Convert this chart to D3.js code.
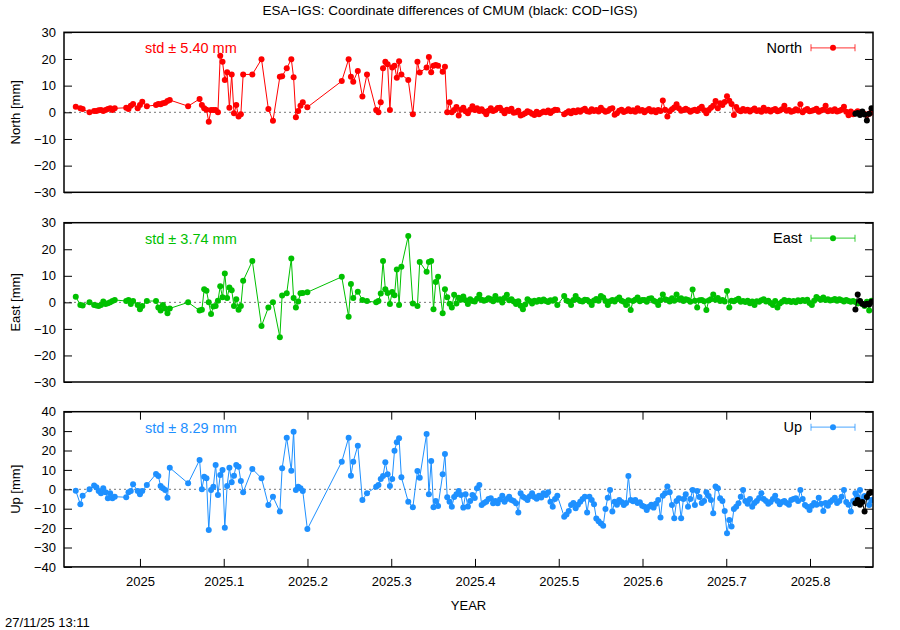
<!DOCTYPE html>
<meta charset="utf-8">
<style>
body { margin: 0; background: #fff; }
text { font-family: "Liberation Sans", Arial, Helvetica, sans-serif; }
</style>
<body>
<script src="https://d3js.org/d3.v7.min.js"></script>
<script>

// epochs as day of 2025 (negative = December 2024)
var days = [
  -28, -26, -25, -22, -20, -19, -18, -17, -16, -15, -14, -13, -12, -11,
  -6, -5, -4, -3, -1, 0, 1, 3,
  7, 8, 9, 10, 11, 12, 13,
  21,
  26, 27, 28, 29, 30, 31, 32, 33, 34, 35, 36, 37, 38, 39, 40, 41, 42, 43, 44, 45,
  49, 53, 56, 58, 61, 62, 64, 66, 67, 68, 69, 70, 71, 73,
  88, 91, 92, 93, 95, 97, 99,
  103, 104, 105, 106, 107, 108, 109, 110, 111, 112, 113, 114,
  117, 119, 121, 122, 125, 126, 127, 128, 129, 130, 132, 133, 134, 135, 136,
  137, 138, 139, 140, 141, 142, 143, 144, 145, 146,
  147, 148, 149, 150, 151, 152, 153, 154, 155, 156,
  157, 158, 159, 160, 161, 162, 163, 164, 165, 166,
  167, 168, 169, 170, 171, 172, 173, 174, 175, 176,
  177, 178, 179, 180, 181, 182,
  185, 186, 187, 188, 189, 190, 191, 192, 193, 194,
  195, 196, 197, 198, 199, 200, 201, 202, 203, 204,
  205, 206, 207, 208, 209, 210, 211, 212, 213, 214,
  215, 216, 217, 218, 219, 220, 221, 222, 223, 224,
  225, 226, 227, 228, 229, 230, 231, 232, 233, 234,
  235, 236, 237, 238, 239, 240, 241, 242, 243, 244,
  245, 246, 247, 248, 249, 250, 251, 252, 253, 254,
  255, 256, 257, 258, 259, 260, 261, 262, 263, 264,
  265, 266, 267, 268, 269, 270, 271, 272, 273, 274,
  275, 276, 277, 278, 279, 280, 281, 282, 283, 284,
  285, 286, 287, 288, 289, 290, 291, 292, 293, 294,
  295, 296, 297, 298, 299, 300, 301, 302, 303, 304,
  305, 306, 307, 308, 309, 310, 311, 312, 313, 314,
  315, 316, 317, 318, 319
];

var north = [
  2.1, 1.5, 1.2, 0.0, 0.5, 0.5, 0.8, 0.9, 0.5, 0.9, 1.2, 1.5, 0.9, 1.5,
  1.7, 1.2, 2.5, 3.1, 1.5, 2.7, 4.0, 2.3,
  2.7, 3.1, 3.0, 3.4, 3.6, 4.2, 4.6,
  2.3,
  5.0, 2.7, 1.5, 1.0, -3.5, 0.9, 0.9, 0.9, 0.0, 21.2, 19.0, 12.1, 15.0, 1.7, 14.2, -0.4, 2.7, -1.6, -0.7, 14.2,
  14.2, 19.9, 1.2, -3.2, 13.3, 13.5, 16.5, 19.9, 13.1, -1.9, 0.5, 2.5, 3.8, 1.9,
  11.7, 19.9, 13.3, 11.5, 15.5, 5.9, 14.2,
  0.9, 0.0, 3.8, 16.5, 19.0, 18.0, 0.9, 16.8, 17.5, 13.0, 19.1, 14.2,
  12.1, -0.7, 19.0, 14.9, 16.8, 20.7, 15.0, 17.5, 17.7, 17.5, 15.2, 17.1, 0.0, 3.8, 0.0,
  0.9, 2.0, -1.2, 1.0, 1.7, 0.4, -0.4, 1.0, 2.3, 0.9,
  1.5, 0.5, 1.1, 0.3, -0.7, 0.6, 1.5, 0.5, 0.9, 1.6,
  1.7, 0.7, -0.4, 1.0, 0.5, 1.3, -0.2, 0.0, 0.6, -1.2,
  -0.8, -0.4, 0.4, 0.0, -0.5, -1.0, 0.2, -0.7, -0.2, 0.3,
  0.0, 0.7, -0.3, 0.5, 1.0, 0.9,
  -0.7, -0.2, 0.4, -0.4, 0.6, 0.0, 0.8, 0.2, 0.9, 1.3,
  0.4, 0.2, 1.1, 0.5, 0.9, 0.3, 1.7, 0.8, 0.2, 0.5,
  1.2, 1.5, -0.9, -0.4, 0.6, 1.0, 0.1, 0.5, 1.1, 0.4,
  0.8, 0.2, 1.5, 0.6, 0.9, 0.0, 0.7, 1.2, 0.3, 0.8,
  0.0, 0.9, 0.5, 4.4, 1.0, -1.6, 0.4, 1.1, 1.8, 3.0,
  1.5, 0.6, 0.9, 1.3, 0.9, 0.2, 0.7, 1.0, 0.5, 1.4,
  2.1, 0.8, -0.4, 0.9, 1.7, 2.5, 4.2, 1.5, 3.4, 2.7,
  3.9, 6.0, 4.3, 3.1, -1.0, 2.0, 0.8, 0.4, 1.2, 0.6,
  1.0, 0.3, 0.9, 1.4, 0.5, 0.8, 0.2, 1.7, 0.6, 1.0,
  0.3, 0.9, 1.2, 0.4, 0.7, 1.1, 2.5, 0.6, 0.9, 0.2,
  0.5, 1.1, 0.7, 3.0, 0.0, 0.8, 1.2, 0.4, 0.6, 0.9,
  1.3, 0.2, 0.7, 1.0, 2.5, 0.4, 0.8, 0.5, 1.1, 0.3,
  0.6, 1.0, 2.1, 0.2, -1.1, 0.3, -0.7, -0.2, 0.4, -0.5,
  0.1, -0.6, -1.0, -0.5, 0.0
];

var east = [
  2.1, -1.0, -1.2, 0.0, -1.0, -1.2, -1.4, -1.0, 0.3, -0.6, -0.3, 0.0, 0.5, 0.9,
  0.5, 0.9, -0.6, 0.5, -1.0, -2.6, -1.4, 0.5,
  0.5, -1.9, -3.1, -1.0, -2.3, -4.1, -2.3,
  0.0,
  -3.1, -2.8, 4.9, 4.4, 0.0, -4.4, -1.6, -1.4, 0.6, 6.1, 1.9, 10.9, 1.6, 5.6, 4.6, -1.4, 1.2, -2.8, -1.4, 8.1,
  15.6, -8.9, -1.9, 0.0, -13.1, 2.6, 3.4, 16.5, 1.6, -1.9, 0.3, 3.4, 3.5, 3.8,
  9.6, -5.4, 6.9, 1.6, 4.0, 0.9, 0.5,
  0.0, 0.5, 3.3, 15.6, 4.9, 3.5, -0.6, 3.9, 2.7, 12.4, -1.0, 13.4,
  25.0, -0.4, -1.4, 15.2, 11.5, 15.2, 15.6, -2.6, 7.7, 9.6, -4.1, 4.9, 1.9, -0.5, -1.9,
  2.9, -0.4, 1.7, 1.0, 2.2, 0.8, -0.6, 1.2, 0.5, 0.3,
  1.4, 2.9, 1.0, 0.6, 0.9, 1.5, 1.2, 0.4, 2.4, 1.0,
  1.2, -0.1, 1.6, 2.9, 0.8, 1.2, 0.3, -0.6, 0.4, -1.3,
  -2.6, -0.8, 1.2, 0.5, -0.4, 0.6, 0.2, 0.9, 0.4, 1.1,
  0.5, 0.1, 0.8, 0.6, 1.2, -1.0,
  2.4, 0.7, 0.3, -1.0, 0.9, 2.4, 1.1, 0.5, 0.3, 1.0,
  0.9, 0.2, -1.0, 0.7, 1.3, 0.6, 2.4, 1.8, 0.5, -1.0,
  0.4, 0.9, 0.3, 1.2, 1.8, 0.6, 0.2, -1.0, 0.8, -2.9,
  0.5, 1.0, 1.8, 0.4, 0.9, 0.9, 0.2, 1.4, 1.5, 0.6,
  0.2, -1.0, 0.8, 3.0, 1.2, 0.9, 0.3, 1.5, 0.6, 3.0,
  1.1, 1.5, 0.5, 1.2, 0.9, 0.2, 4.8, 0.6, -1.9, 0.8,
  0.9, 0.4, -2.9, 0.7, 1.2, 3.0, 1.0, 1.6, 0.5, 0.9,
  0.3, 4.3, -1.9, 0.6, 0.4, 0.9, 1.4, 0.2, 0.5, 0.1,
  0.6, -0.3, 0.3, -1.0, 0.4, 0.2, 0.8, 1.2, 0.3, 0.6,
  -0.2, -1.0, 0.5, -1.9, -0.4, 0.2, 0.9, 0.3, 0.6, 0.1,
  0.5, 0.0, 0.8, 0.4, 0.9, 0.5, 1.0, -0.2, -1.0, 0.6,
  2.0, 1.4, 1.0, 1.8, 0.9, 1.2, 0.7, 0.9, 1.3, 0.6,
  1.2, 0.8, 0.3, 0.9, 0.5, 0.2, 0.5, 0.1, -0.4, 0.3,
  -0.6, -1.4, 0.2, -3.1, 0.6
];

var up = [
  -0.7, -7.7, -3.3, 0.0, 1.9, 1.0, -0.9, -2.0, 0.5, -1.5, -4.6, -2.0, -4.6, -3.8,
  -4.1, -1.5, -0.9, 2.6, -0.9, -2.6, -0.9, 2.2,
  7.9, 6.9, 1.7, 0.5, -0.4, -4.3, 11.1,
  3.1,
  15.1, 0.0, 6.5, 5.7, -21.0, -0.4, 1.3, 12.5, -2.9, 7.4, 10.0, -19.8, 1.7, 11.1, 3.6, 7.0, 12.5, 11.6, 4.3, -1.5,
  10.5, 5.7, -8.1, -3.8, -11.5, 10.8, 26.6, 9.6, 29.7, -0.4, 1.3, 0.5, -0.9, -20.5,
  14.2, 26.6, 7.0, 14.2, 22.5, -5.5, -2.0,
  1.3, 2.2, 5.3, 6.9, 13.9, 7.7, 1.7, 5.3, 19.9, 24.2, 26.3, 6.2,
  -6.4, -9.3, 9.4, 6.0, 28.5, -2.6, 14.6, -9.3, -6.0, -8.6, 7.7, 18.2, -4.1, -6.4, -9.0,
  -4.0, -2.6, -0.9, -2.9, -9.4, -2.6, -8.9, -6.0, -2.9, -4.5,
  0.5, 2.2, -8.1, -7.0, -6.4, -5.0, -4.6, -7.2, -6.0, -7.2,
  -5.2, -3.3, -6.4, -5.0, -3.8, -5.5, -6.0, -7.2, -11.9, -2.0,
  -3.8, -4.5, -5.5, -3.6, -2.0, -4.0, -4.9, -3.3, -4.2, -2.0,
  -3.0, -1.5, -6.4, -9.0, -5.0, -3.3,
  -14.1, -13.0, -11.2, -8.1, -7.0, -9.8, -8.0, -6.4, -5.0, -3.8,
  -11.9, -3.8, -5.5, -7.7, -15.0, -16.5, -17.6, -18.8, -10.2, -4.3,
  -0.4, -11.5, -6.4, -8.0, -5.5, -6.5, -8.1, -7.0, 6.9, -5.5,
  -6.2, -5.5, -7.0, -6.7, -8.5, -9.0, -10.7, -9.0, -8.0, -9.4,
  -7.5, -5.5, -14.6, -3.3, -2.0, 1.5, -1.5, -8.1, -14.9, -6.0,
  -4.6, -14.9, -5.0, -2.6, -9.0, -5.0, -0.4, -8.1, -0.9, -4.0,
  -7.0, -6.0, -1.5, -3.5, -5.5, -12.4, 1.5, 0.5, -4.6, -6.0,
  -11.2, -22.7, -15.8, -19.2, -10.2, -9.0, -7.2, -3.8, -0.4, -6.0,
  -7.5, -5.0, -9.0, -7.0, -6.0, -4.5, -2.0, -5.0, -6.0, -7.5,
  -6.5, -5.0, -3.3, -6.0, -7.7, -6.5, -6.0, -7.0, -8.0, -5.5,
  -5.0, -4.6, -6.0, -0.4, -5.0, -8.1, -9.0, -10.7, -8.5, -7.0,
  -8.0, -4.3, -7.5, -11.2, -7.0, -8.5, -6.5, -5.5, -4.3, -7.0,
  -6.0, -3.8, -0.4, -6.5, -8.0, -11.5, -6.0, -2.0, -4.0, -0.4,
  -6.0, -3.5, -4.0, -8.1, -5.5
];

// black: COD-IGS, last days
var codDays  = [312, 313, 314, 315, 316, 317, 318, 319];
var codNorth = [-0.5, -0.3, -1.0, 0.3, -0.8, -3.1, -0.5, 1.5];
var codEast  = [-2.7, 3.0, 0.5, -0.5, -1.0, -0.5, -0.8, 0.2];
var codUp    = [-7.2, -5.5, -8.0, -6.5, -11.5, -4.0, -2.0, -1.5];

var xTicks = [2025, 2025.1, 2025.2, 2025.3, 2025.4, 2025.5, 2025.6, 2025.7, 2025.8];
var stdText = ["5.40", "3.74", "8.29"];
var names = ["North", "East", "Up"];
var colors = ["#ff0000", "#00c000", "#1e90ff"];

var panels = [
  {name: names[0], vals: north, cod: codNorth, color: colors[0], std: stdText[0], top: 32.3, bottom: 192.3, dom: [-30, 30], ticks: [-30, -20, -10, 0, 10, 20, 30]},
  {name: names[1], vals: east,  cod: codEast,  color: colors[1], std: stdText[1], top: 222.7, bottom: 382, dom: [-30, 30], ticks: [-30, -20, -10, 0, 10, 20, 30]},
  {name: names[2], vals: up,    cod: codUp,    color: colors[2], std: stdText[2], top: 411.7, bottom: 566.9, dom: [-40, 40], ticks: [-40, -30, -20, -10, 0, 10, 20, 30, 40]}
];

var left = 64, right = 873;
var toYear = function(d) { return 2025 + d / 365.25; };

var x = d3.scaleLinear().domain([2024.9093, 2025.8752]).range([left, right]);

var svg = d3.select("body").append("svg")
    .attr("width", 900)
    .attr("height", 630)
    .style("background", "#fff");

// title
svg.append("text")
    .attr("x", 450).attr("y", 15)
    .attr("text-anchor", "middle")
    .style("font-size", "13.5px")
    .text("ESA\u2212IGS: Coordinate differences of CMUM (black: COD\u2212IGS)");

panels.forEach(function(p, i) {
  var y = d3.scaleLinear().domain(p.dom).range([p.bottom, p.top]);
  var g = svg.append("g");

  // zero line
  g.append("line")
      .attr("x1", left).attr("x2", right)
      .attr("y1", y(0)).attr("y2", y(0))
      .style("stroke", "#777")
      .style("stroke-width", 1)
      .style("stroke-dasharray", "2,3");

  // y axes, ticks inward
  var ya = g.append("g")
      .attr("transform", "translate(" + left + ",0)")
      .call(d3.axisLeft(y).tickValues(p.ticks).tickSize(-8).tickPadding(8));
  ya.select(".domain").remove();
  ya.selectAll("text").style("font-size", "13px").style("font-family", "'Liberation Sans', Arial, sans-serif");

  var yr = g.append("g")
      .attr("transform", "translate(" + right + ",0)")
      .call(d3.axisRight(y).tickValues(p.ticks).tickSize(-8).tickFormat(""));
  yr.select(".domain").remove();

  if (i == 2) {
    var xb = g.append("g")
        .attr("transform", "translate(0," + p.bottom + ")")
        .call(d3.axisBottom(x).tickValues(xTicks).tickSize(-8).tickPadding(10).tickFormat(d3.format("")));
    xb.select(".domain").remove();
    xb.selectAll("text").style("font-size", "13px").style("font-family", "'Liberation Sans', Arial, sans-serif");
    var xt = g.append("g")
        .attr("transform", "translate(0," + p.top + ")")
        .call(d3.axisTop(x).tickValues(xTicks).tickSize(-8).tickFormat(""));
    xt.select(".domain").remove();
  }

  // y label
  svg.append("text")
      .attr("transform", "translate(20," + ((p.top + p.bottom) / 2) + ") rotate(-90)")
      .attr("text-anchor", "middle")
      .style("font-size", "13px")
      .text(p.name + " [mm]");

  var clip = "clip" + i;
  svg.append("clipPath").attr("id", clip)
    .append("rect")
      .attr("x", left).attr("y", p.top)
      .attr("width", right - left).attr("height", p.bottom - p.top);

  var data = days.map(function(d, k) { return {t: toYear(d), v: p.vals[k]}; });
  var codData = codDays.map(function(d, k) { return {t: toYear(d), v: p.cod[k]}; });

  var line = d3.line()
      .x(function(d) { return x(d.t); })
      .y(function(d) { return y(d.v); });

  var plot = svg.append("g").attr("clip-path", "url(#" + clip + ")");

  plot.append("path")
      .datum(data)
      .attr("d", line)
      .style("fill", "none")
      .style("stroke", p.color)
      .style("stroke-width", 1);

  plot.selectAll(".pt")
      .data(data)
    .enter().append("circle")
      .attr("cx", function(d) { return x(d.t); })
      .attr("cy", function(d) { return y(d.v); })
      .attr("r", 3)
      .style("fill", p.color);

  plot.append("path")
      .datum(codData)
      .attr("d", line)
      .style("fill", "none")
      .style("stroke", "#000")
      .style("stroke-width", 1);

  plot.selectAll(".cod")
      .data(codData)
    .enter().append("circle")
      .attr("cx", function(d) { return x(d.t); })
      .attr("cy", function(d) { return y(d.v); })
      .attr("r", 3)
      .style("fill", "#000");

  // border
  svg.append("rect")
      .attr("x", left).attr("y", p.top)
      .attr("width", right - left).attr("height", p.bottom - p.top)
      .style("fill", "none")
      .style("stroke", "#000")
      .style("stroke-width", 1.5);

  // std text
  svg.append("text")
      .attr("x", 145).attr("y", p.top + 21)
      .style("font-size", "14.5px")
      .style("fill", p.color)
      .text("std \u00b1 " + p.std + " mm");

  // legend
  var ly = p.top + 15.5;
  svg.append("text")
      .attr("x", 802).attr("y", ly)
      .attr("dy", "0.35em")
      .attr("text-anchor", "end")
      .style("font-size", "14.5px")
      .text(p.name);
  var lg = svg.append("g").style("stroke", p.color).style("stroke-opacity", 0.65).style("stroke-width", 1.2);
  lg.append("line").attr("x1", 811).attr("x2", 855).attr("y1", ly).attr("y2", ly);
  lg.append("line").attr("x1", 811).attr("x2", 811).attr("y1", ly - 3.5).attr("y2", ly + 3.5);
  lg.append("line").attr("x1", 855).attr("x2", 855).attr("y1", ly - 3.5).attr("y2", ly + 3.5);
  svg.append("circle").attr("cx", 833).attr("cy", ly).attr("r", 3).style("fill", p.color);
});

// axis title and timestamp
svg.append("text")
    .attr("x", (left + right) / 2).attr("y", 610)
    .attr("text-anchor", "middle")
    .style("font-size", "13px")
    .text("YEAR");

svg.append("text")
    .attr("x", 5).attr("y", 627)
    .style("font-size", "13px")
    .text("27/11/25 13:11");

</script>
</body>
